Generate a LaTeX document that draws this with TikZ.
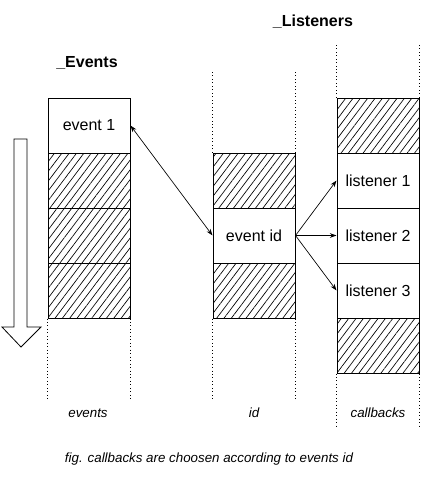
\documentclass[tikz,border=0pt]{standalone}
\usepackage{fontspec}
\setmainfont{Liberation Sans}
\usetikzlibrary{patterns.meta,arrows.meta}

\tikzset{
  cell/.style={draw, minimum width=61.5pt, minimum height=41.25pt, inner sep=0pt, font=\fontsize{12}{14}\selectfont},
  hatch/.style={cell, pattern={Lines[angle=53,distance=4.4pt,line width=0.5pt]}},
  guide/.style={dotted, line width=0.6pt},
  title/.style={font=\fontsize{12}{14}\selectfont\bfseries},
  lbl/.style={font=\fontsize{10}{12}\selectfont\itshape},
  link/.style={line width=0.5pt, -{Stealth[length=5pt,width=3.5pt]}}
}

\begin{document}
\begin{tikzpicture}[x=0.75pt, y=-0.75pt, line width=0.75pt]
\path[fill=white, use as bounding box] (0,0) rectangle (432,479);

% events column
\node[cell] (ev1) at (89,125.5) {event 1};
\node[hatch] (ev2) at (89,180.5) {};
\node[hatch] (ev3) at (89,235.5) {};
\node[hatch] (ev4) at (89,290.5) {};
\draw[guide] (ev4.south west) -- ++(0,82); \draw[guide] (ev4.south east) -- ++(0,82);

% id column
\node[hatch] (id1) at (254,180.5) {};
\node[cell] (eid) at (254,235.5) {event id};
\node[hatch] (id3) at (254,290.5) {};
\draw[guide] (id1.north west) -- ++(0,-83); \draw[guide] (id1.north east) -- ++(0,-83);
\draw[guide] (id3.south west) -- ++(0,82); \draw[guide] (id3.south east) -- ++(0,82);

% callbacks column
\node[hatch] (cb0) at (378,125.5) {};
\node[cell] (lis1) at (378,180.5) {listener 1};
\node[cell] (lis2) at (378,235.5) {listener 2};
\node[cell] (lis3) at (378,290.5) {listener 3};
\node[hatch] (cb4) at (378,345.5) {};
\draw[guide] (cb0.north west) -- ++(0,-55); \draw[guide] (cb0.north east) -- ++(0,-55);
\draw[guide] (cb4.south west) -- ++(0,55); \draw[guide] (cb4.south east) -- ++(0,55);

% titles and labels
\node[title] (tEvents) at (87,63) {\_Events};
\node[title] (tListeners) at (313,22) {\_Listeners};
\node[lbl] (lEvents) at (88,413) {events};
\node[lbl] (lId) at (254,413) {id};
\node[lbl] (lCallbacks) at (378,413) {callbacks};
\node[lbl] (caption) at (209,459) {fig. callbacks are choosen according to events id};

% time arrow
\draw[line width=0.6pt] (14,139) -- (27,139) -- (27,327) -- (41,327) -- (21,347) -- (2,327) -- (14,327) -- cycle;

% links
\draw[link, {Stealth[length=5pt,width=3.5pt]}-{Stealth[length=5pt,width=3.5pt]}] (ev1.east) -- (eid.west);
\foreach \l in {lis1,lis2,lis3} \draw[link] (eid.east) -- (\l.west);
\end{tikzpicture}
\end{document}
